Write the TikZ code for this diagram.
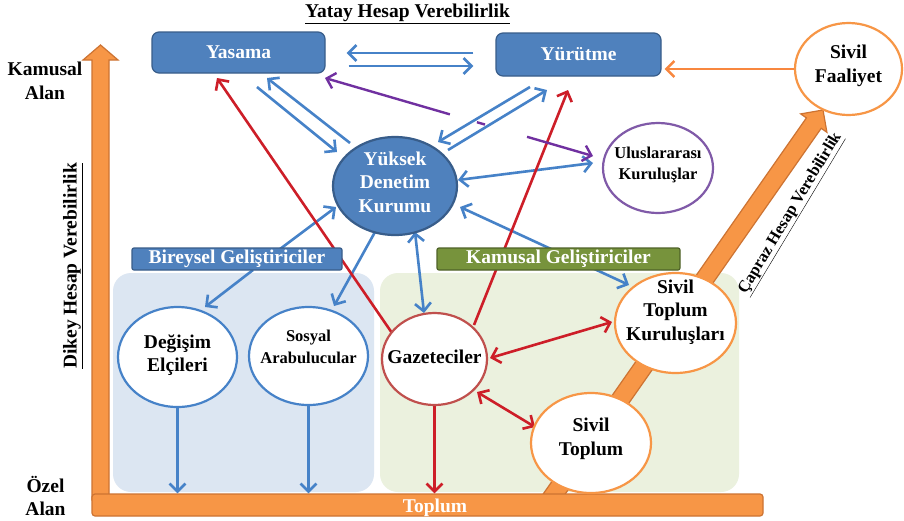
\documentclass[tikz,border=0pt]{standalone}
\usepackage{fontspec}
\setmainfont{Liberation Serif}
\usetikzlibrary{arrows.meta,shapes.geometric,calc}
\pgfdeclarelayer{back}
\pgfdeclarelayer{conn}
\pgfsetlayers{back,conn,main}
\definecolor{bfill}{RGB}{79,129,189}
\definecolor{bdraw}{RGB}{56,93,138}
\definecolor{cblue}{RGB}{70,130,200}
\definecolor{cred}{RGB}{205,30,40}
\definecolor{gazred}{RGB}{192,80,77}
\definecolor{cpurp}{RGB}{112,48,160}
\definecolor{ulupurp}{RGB}{128,90,168}
\definecolor{corange}{RGB}{247,150,70}
\definecolor{odraw}{RGB}{205,115,50}
\definecolor{gfill}{RGB}{119,147,60}
\definecolor{gdraw}{RGB}{79,98,40}
\definecolor{lblue}{RGB}{220,230,242}
\definecolor{lgreen}{RGB}{235,241,222}
\begin{document}
\begin{tikzpicture}[x=1pt,y=-1pt,
  >={Straight Barb[length=8pt,width=16pt]},
  big/.style={font=\fontsize{19.5}{23.5}\selectfont\bfseries},
  small/.style={font=\fontsize{16.5}{21.5}\selectfont\bfseries},
  topbox/.style={rectangle, rounded corners=7pt, fill=bfill, draw=bdraw, line width=1.2pt, text=white, inner sep=0pt, big},
  lab/.style={rectangle, rounded corners=2pt, line width=1.2pt, text=white, inner sep=0pt, big},
  ell/.style={ellipse, inner sep=0pt, fill=white, line width=2.2pt},
  bconn/.style={draw=cblue, line width=2.6pt},
  rconn/.style={draw=cred, line width=2.6pt},
  pconn/.style={draw=cpurp, line width=2.4pt},
  oconn/.style={draw=corange!90!red, line width=2.4pt},
  bigarrow/.style={fill=corange, draw=odraw, line width=1.2pt, line join=miter}
]
\useasboundingbox (0,0) rectangle (904,520);

% ---------- nodes ----------
\node[topbox, minimum width=173pt, minimum height=41pt] (Yas) at (238.5,52.5) {Yasama};
\node[topbox, minimum width=165pt, minimum height=43pt] (Yur) at (578.5,54.5) {Yürütme};

\node[ell, draw=bdraw, fill=bfill, minimum width=124pt, minimum height=98pt,
  label={[big,text=white,align=center,yshift=4pt]center:Yüksek\\Denetim\\Kurumu}] (YDK) at (395,186) {};
\node[ell, draw=ulupurp, minimum width=110pt, minimum height=90pt,
  label={[small,align=center,yshift=3pt]center:Uluslararası\\Kuruluşlar}] (Ulu) at (658,168) {};
\node[ell, draw=corange, minimum width=107pt, minimum height=92pt,
  label={[big,align=center,yshift=3pt]center:Sivil\\Faaliyet}] (SF) at (848.5,69) {};

\node[ell, draw=cblue, minimum width=119pt, minimum height=100pt,
  label={[big,align=center,yshift=2pt]center:Değişim\\Elçileri}] (DE) at (177.5,357) {};
\node[ell, draw=cblue, minimum width=119pt, minimum height=98pt,
  label={[small,align=center,yshift=9pt]center:Sosyal\\Arabulucular}] (SA) at (308.5,356) {};
\node[ell, draw=gazred, minimum width=105pt, minimum height=92pt,
  label={[big,yshift=2pt]center:Gazeteciler}] (Gaz) at (434.5,359) {};
\node[ell, draw=corange, minimum width=121pt, minimum height=100pt,
  label={[big,align=center,yshift=11pt]center:Sivil\\Toplum\\Kuruluşları}] (STK) at (675.5,323) {};
\node[ell, draw=corange, minimum width=120pt, minimum height=100pt,
  label={[big,align=center,yshift=4pt]center:Sivil\\Toplum}] (ST) at (591,443) {};

\node[lab, fill=bfill, draw=bdraw, minimum width=210pt, minimum height=22pt] (Bir) at (237,259) {Bireysel Geliştiriciler};
\node[lab, fill=gfill, draw=gdraw, minimum width=243pt, minimum height=22pt] (Kam) at (558.5,259) {Kamusal Geliştiriciler};

\node[big, text=white] (toplum) at (435,507.5) {Toplum};

\node[big, align=center] (kamalan) at (45,81) {Kamusal\\Alan};
\node[big, align=center] (ozalan) at (45.5,496) {Özel\\Alan};
\node[big] (title) at (407.5,14) {\underline{Yatay Hesap Verebilirlik}};
\node[big, rotate=90] (dikey) at (73,266) {\underline{Dikey Hesap Verebilirlik}};
\node[small, rotate=59] (capraz) at (791,214) {\underline{Çapraz Hesap Verebilirlik}};

% ---------- background ----------
\begin{pgfonlayer}{back}
\fill[white] (0,0) rectangle (904,520);
\fill[lblue, rounded corners=18pt] (113,273) rectangle (374,492);
\fill[lgreen, rounded corners=18pt] (380,273) rectangle (739,492);
\draw[bigarrow] (92,500) -- (92,60) -- (83,60) -- (100.5,45) -- (118,60) -- (109,60) -- (109,500) -- cycle;
\draw[bigarrow] (557.4,505.2) -- (542.6,494.8) -- (806.4,117.9) -- (800.7,113.9) -- (823,110) -- (826.9,132.3) -- (821.2,128.3) -- cycle;
\node[rectangle, fill=corange, draw=odraw, line width=1.2pt, rounded corners=3pt, minimum width=671pt, minimum height=22pt, inner sep=0pt] (bar) at (427.5,505) {};
\end{pgfonlayer}

% ---------- connectors ----------
\begin{pgfonlayer}{conn}
\draw[bconn,->] ([shift={(-22,-1.5)}]Yur.west) -- ([shift={(21,0.5)}]Yas.east);
\draw[bconn,->] ([shift={(23,13.5)}]Yas.east) -- ([shift={(-22,11.5)}]Yur.west);
\draw[bconn,->] ($(Yas)+(18.5,34.5)$) -- ($(YDK)+(-58,-34)$);
\draw[bconn,->] ($(YDK)+(-45,-43)$) -- ($(Yas)+(28.5,25.5)$);
\draw[bconn,->] ($(Yur)+(-48.5,32.5)$) -- ($(YDK)+(43,-44)$);
\draw[bconn,->] ($(YDK)+(53,-36)$) -- ($(Yur)+(-31.5,35.5)$);
\draw[bconn,<->] ($(YDK)+(63,-6)$) -- ($(Ulu)+(-65,-5)$);
\draw[bconn,<->] ($(YDK)+(65,21)$) -- ($(STK)+(-46.5,-38)$);
\draw[bconn,<->] ($(YDK)+(20,46)$) -- ($(Gaz)+(-10.5,-46)$);
\draw[bconn,->] ($(Bir)+(43,-10)$) -- ($(YDK)+(-59,21)$);
\draw[bconn,->] ($(Bir)+(16,11)$) -- ($(DE)+(27.5,-50)$);
\draw[bconn,->] ($(YDK)+(-20,46)$) -- ($(SA)+(25.5,-50)$);
\draw[bconn,->] (DE.south) -- (DE.south |- bar.north);
\draw[bconn,->] (SA.south) -- (SA.south |- bar.north);

\draw[rconn,->] ($(Gaz)+(-42.5,-26)$) -- ($(Yas)+(-21.5,25.5)$);
\draw[rconn,->] ($(Gaz)+(39.5,-34)$) -- ($(Yur)+(-10.5,35.5)$);
\draw[rconn,<->] ($(Gaz)+(55.5,-1)$) -- ($(STK)+(-63.5,-1)$);
\draw[rconn,<->] ($(Gaz)+(42.5,33)$) -- ($(ST)+(-56,-16)$);
\draw[rconn,->] (Gaz.south) -- (Gaz.south |- bar.north);

\draw[oconn,->] (SF.west) -- ($(SF.west -| Yur.east)+(3,0)$);

\coordinate (p1) at ($(Yas)+(86.5,25.5)$);
\coordinate (p2) at ($(Ulu)+(-65,-12)$);
\draw[pconn,->] ($(p1)!0.466!(p2)$) -- (p1);
\draw[pconn] ($(p1)!0.567!(p2)$) -- ($(p1)!0.597!(p2)$);
\draw[pconn,->] ($(p1)!0.754!(p2)$) -- (p2);
\end{pgfonlayer}
\end{tikzpicture}
\end{document}
